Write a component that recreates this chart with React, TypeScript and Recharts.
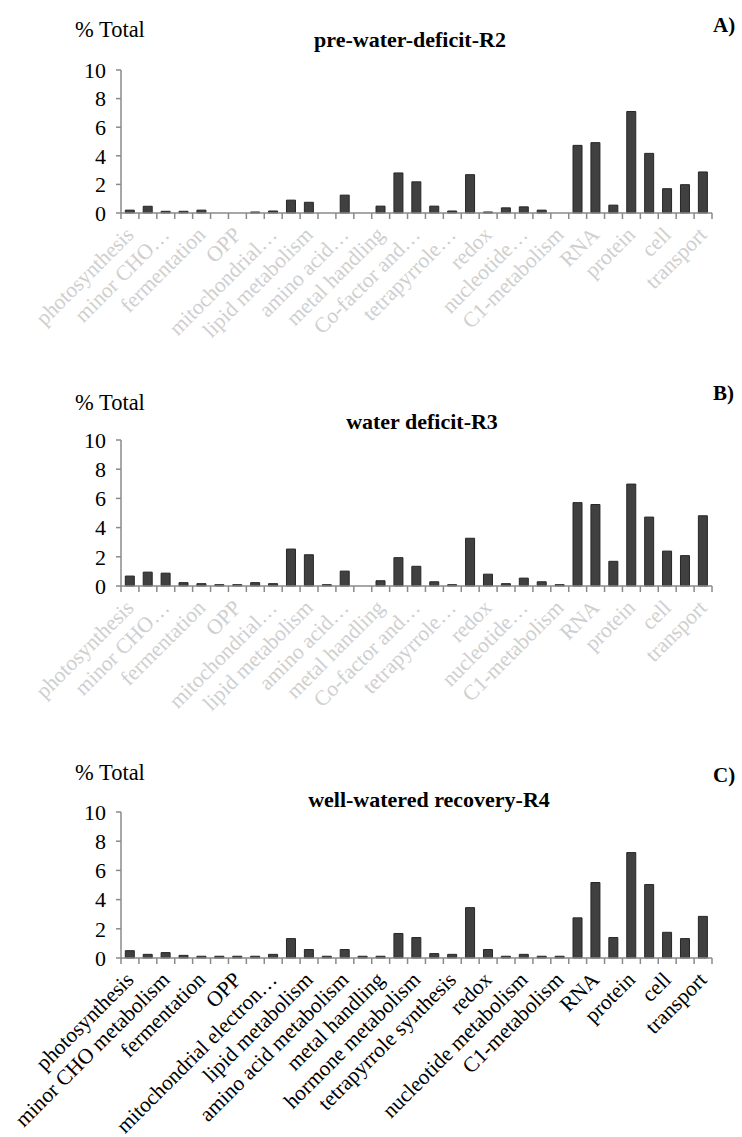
import React from 'react';
import { BarChart, Bar, XAxis, YAxis } from 'recharts';

const FONT = "'Liberation Serif', 'Times New Roman', serif";

// 33 MapMan functional bins (panels A and B)
const categoriesAB = [
  'photosynthesis', 'major CHO metabolism', 'minor CHO metabolism', 'glycolysis',
  'fermentation', 'gluconeogenesis', 'OPP', 'TCA',
  'mitochondrial electron transport', 'cell wall', 'lipid metabolism', 'N-metabolism',
  'amino acid metabolism', 'S-assimilation', 'metal handling', 'hormone metabolism',
  'Co-factor and vitamin metabolism', 'secondary metabolism', 'tetrapyrrole synthesis', 'stress',
  'redox', 'polyamine metabolism', 'nucleotide metabolism', 'biodegradation of xenobiotics',
  'C1-metabolism', 'misc', 'RNA', 'DNA', 'protein', 'signalling', 'cell', 'development', 'transport',
];

// 33 bins (panel C)
const categoriesC = [
  'photosynthesis', 'major CHO metabolism', 'minor CHO metabolism', 'glycolysis',
  'fermentation', 'gluconeogenesis', 'OPP', 'TCA',
  'mitochondrial electron transport', 'cell wall', 'lipid metabolism', 'N-metabolism',
  'amino acid metabolism', 'S-assimilation', 'metal handling', 'secondary metabolism',
  'hormone metabolism', 'Co-factor and vitamin metabolism', 'tetrapyrrole synthesis', 'stress',
  'redox', 'polyamine metabolism', 'nucleotide metabolism', 'biodegradation of xenobiotics',
  'C1-metabolism', 'misc', 'RNA', 'DNA', 'protein', 'signalling', 'cell', 'development', 'transport',
];

// Labels displayed on every other category
const tickLabelsAB = [
  'photosynthesis', 'minor CHO…', 'fermentation', 'OPP', 'mitochondrial…',
  'lipid metabolism', 'amino acid…', 'metal handling', 'Co-factor and…', 'tetrapyrrole…',
  'redox', 'nucleotide…', 'C1-metabolism', 'RNA', 'protein', 'cell', 'transport',
];
const tickLabelsC = [
  'photosynthesis', 'minor CHO metabolism', 'fermentation', 'OPP', 'mitochondrial electron…',
  'lipid metabolism', 'amino acid metabolism', 'metal handling', 'hormone metabolism',
  'tetrapyrrole synthesis', 'redox', 'nucleotide metabolism', 'C1-metabolism', 'RNA',
  'protein', 'cell', 'transport',
];

const valuesA = [
  0.2, 0.47, 0.12, 0.12, 0.2, 0, 0, 0.07, 0.14, 0.9, 0.75, 0, 1.25, 0, 0.48, 2.8, 2.18,
  0.48, 0.14, 2.68, 0.07, 0.36, 0.43, 0.2, 0, 4.73, 4.92, 0.55, 7.1, 4.17, 1.7, 1.98, 2.87,
];
const valuesB = [
  0.68, 0.95, 0.88, 0.23, 0.16, 0.09, 0.09, 0.23, 0.16, 2.53, 2.14, 0.09, 1.02, 0, 0.36,
  1.94, 1.35, 0.29, 0.09, 3.27, 0.81, 0.16, 0.54, 0.29, 0.09, 5.71, 5.58, 1.69, 6.98, 4.72,
  2.39, 2.08, 4.81,
];
const valuesC = [
  0.5, 0.25, 0.37, 0.18, 0.12, 0.12, 0.12, 0.12, 0.25, 1.33, 0.58, 0.12, 0.58, 0.12, 0.12,
  1.68, 1.4, 0.3, 0.25, 3.45, 0.58, 0.12, 0.25, 0.12, 0.12, 2.75, 5.17, 1.4, 7.22, 5.03,
  1.76, 1.33, 2.85,
];

const yTicks = [0, 2, 4, 6, 8, 10];

const AXIS_COLOR = '#8a8a8a';

function makeTick(labels: string[], color: string, n: number) {
  return (props: any) => {
    const { x, y, payload, index, width } = props;
    const half = payload && typeof payload.offset === 'number' && payload.offset > 0
      ? payload.offset
      : (width || 591) / n / 2;
    const showLabel = index % 2 === 0 && labels[index / 2] !== undefined;
    const px = x + 5;
    const py = y + 23;
    return (
      <g>
        <line x1={x - half} x2={x - half} y1={y} y2={y + 6} stroke={AXIS_COLOR} strokeWidth={1.5} />
        {index === n - 1 && (
          <line x1={x + half} x2={x + half} y1={y} y2={y + 6} stroke={AXIS_COLOR} strokeWidth={1.5} />
        )}
        {showLabel && (
          <text
            x={px}
            y={py}
            textAnchor="end"
            transform={`rotate(-45, ${px}, ${py})`}
            fill={color}
            fontSize={21.5}
            fontFamily={FONT}
          >
            {labels[index / 2]}
          </text>
        )}
      </g>
    );
  };
}

type PanelProps = {
  top: number;
  height: number;
  xAxisHeight: number;
  categories: string[];
  values: number[];
  tickLabels: string[];
  labelColor: string;
  title: string;
  titleCx: number;
  titleCy: number;
  pctCy: number;
  letter: string;
  letterCy: number;
};

function Panel(p: PanelProps) {
  const data = p.categories.map((c, i) => ({ cat: c, v: p.values[i] }));
  return (
    <>
      <div
        style={{
          position: 'absolute', left: 75, top: p.pctCy - 13, fontSize: 22.5, lineHeight: '26px',
          fontFamily: FONT, color: '#000', whiteSpace: 'nowrap',
        }}
      >
        % Total
      </div>
      <div
        style={{
          position: 'absolute', left: p.titleCx - 250, width: 500, top: p.titleCy - 13,
          textAlign: 'center', fontSize: 22, lineHeight: '26px', fontWeight: 'bold',
          fontFamily: FONT, color: '#000', whiteSpace: 'nowrap',
        }}
      >
        {p.title}
      </div>
      <div
        style={{
          position: 'absolute', left: 713, top: p.letterCy - 12, fontSize: 21, lineHeight: '24px',
          fontWeight: 'bold', fontFamily: FONT, color: '#000', whiteSpace: 'nowrap',
        }}
      >
        {p.letter}
      </div>
      <div style={{ position: 'absolute', left: 0, top: p.top, width: 742, height: p.height }}>
        <BarChart
          width={742}
          height={p.height}
          data={data}
          margin={{ top: 70, right: 30, left: 0, bottom: 0 }}
          barCategoryGap="24%"
        >
          <XAxis
            dataKey="cat"
            interval={0}
            height={p.xAxisHeight}
            tickLine={false}
            tickSize={0}
            tickMargin={0}
            axisLine={{ stroke: AXIS_COLOR, strokeWidth: 1.5 }}
            tick={makeTick(p.tickLabels, p.labelColor, p.categories.length)}
          />
          <YAxis
            domain={[0, 10]}
            ticks={yTicks}
            width={121}
            tickSize={5}
            tickMargin={10}
            interval={0}
            axisLine={{ stroke: AXIS_COLOR, strokeWidth: 1.5 }}
            tickLine={{ stroke: AXIS_COLOR, strokeWidth: 1.5 }}
            tick={{ fill: '#000', fontSize: 22, fontFamily: FONT }}
          />
          <Bar dataKey="v" fill="#404040" stroke="#262626" strokeWidth={1} isAnimationActive={false} />
        </BarChart>
      </div>
    </>
  );
}

export default function App() {
  return (
    <div
      style={{
        position: 'absolute', left: 0, top: 0, width: 742, height: 1137, background: '#fff',
        overflow: 'hidden',
      }}
    >
      <Panel
        top={0}
        height={380}
        xAxisHeight={167}
        categories={categoriesAB}
        values={valuesA}
        tickLabels={tickLabelsAB}
        labelColor="#cfcfcf"
        title="pre-water-deficit-R2"
        titleCx={410}
        titleCy={40}
        pctCy={30}
        letter="A)"
        letterCy={25}
      />
      <Panel
        top={370}
        height={380}
        xAxisHeight={164}
        categories={categoriesAB}
        values={valuesB}
        tickLabels={tickLabelsAB}
        labelColor="#cfcfcf"
        title="water deficit-R3"
        titleCx={422}
        titleCy={422}
        pctCy={403}
        letter="B)"
        letterCy={393}
      />
      <Panel
        top={742}
        height={395}
        xAxisHeight={179}
        categories={categoriesC}
        values={valuesC}
        tickLabels={tickLabelsC}
        labelColor="#000"
        title="well-watered recovery-R4"
        titleCx={429}
        titleCy={800}
        pctCy={773}
        letter="C)"
        letterCy={775}
      />
    </div>
  );
}
